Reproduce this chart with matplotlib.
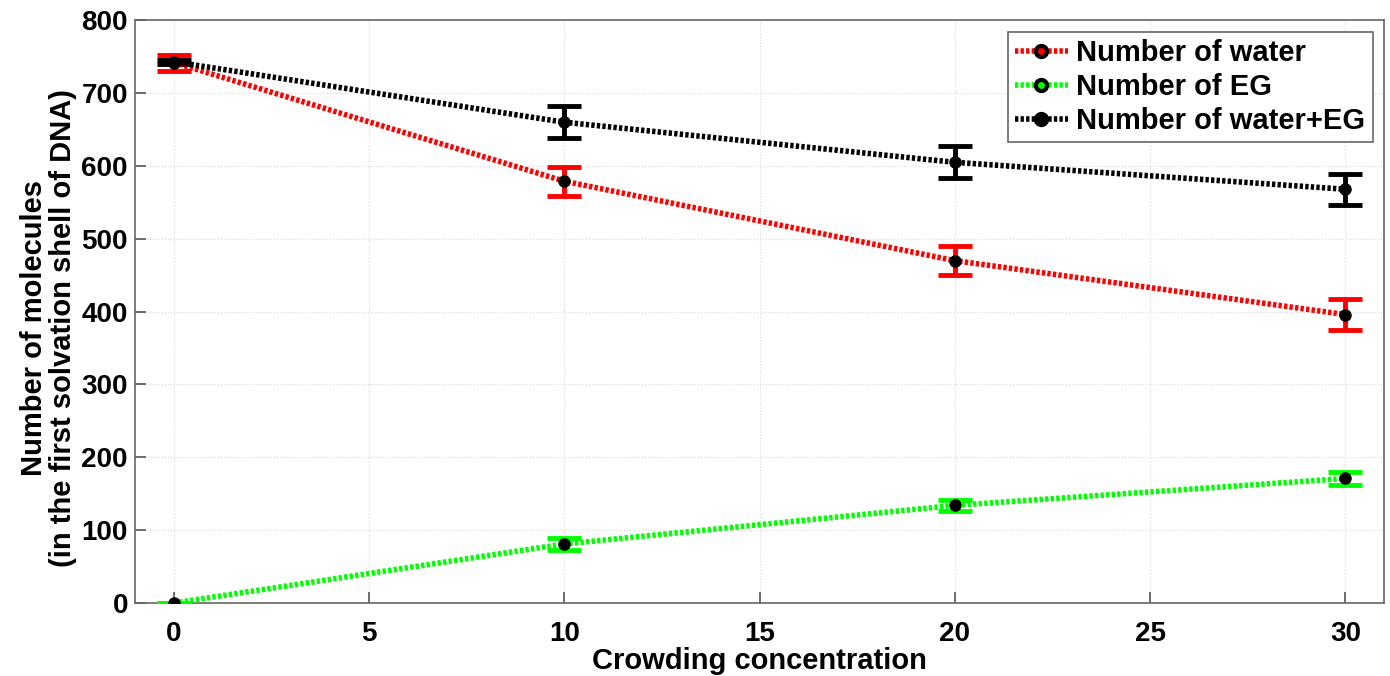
import matplotlib
matplotlib.use('Agg')
import matplotlib.pyplot as plt
from matplotlib.lines import Line2D

# Data
conc = [0, 10, 20, 30]
water = [742, 579, 470, 396]
water_err = [11, 20, 20, 21]
eg = [0, 81, 134, 171]
eg_err = [0, 8, 8, 9]
total = [743, 660, 605, 568]
total_err = [3, 22, 22, 21]

plt.rcParams['font.family'] = ['Liberation Sans', 'DejaVu Sans']
plt.rcParams['font.weight'] = 'bold'

fig = plt.figure(figsize=(13.9, 6.76), dpi=100)
ax = fig.add_axes([0.097, 0.108, 0.899, 0.862])

dash = (0, (0.6, 0.4))
series = [
    (water, water_err, 'red', 'Number of water'),
    (eg, eg_err, '#00ff00', 'Number of EG'),
    (total, total_err, 'black', 'Number of water+EG'),
]
handles = []
for vals, err, col, lab in series:
    ax.errorbar(conc, vals, yerr=err, color=col, ecolor=col, elinewidth=3.5,
                capsize=12, capthick=3.5, linestyle='none', zorder=3)
    ax.plot(conc, vals, color=col, linestyle=dash, linewidth=4, zorder=4)
    ax.plot(conc, vals, linestyle='none', marker='o', markersize=8,
            markerfacecolor='black', markeredgecolor='black', zorder=5)
    handles.append(Line2D([], [], color=col, linestyle=dash, linewidth=4,
                          marker='o', markersize=8, markerfacecolor=col,
                          markeredgecolor='black', markeredgewidth=3,
                          label=lab))

ax.set_xlim(-1, 31)
ax.set_ylim(0, 800)
ax.set_xticks([0, 5, 10, 15, 20, 25, 30])
ax.set_yticks(range(0, 801, 100))
ax.grid(True, color='#d8d8d8', linestyle=':', linewidth=0.8)
ax.tick_params(direction='in', length=8, width=1.2, color='#555555',
               labelsize=20, top=False, right=False)
ax.tick_params(axis='x', pad=13)
ax.tick_params(axis='y', pad=5)
for lbl in ax.get_xticklabels() + ax.get_yticklabels():
    lbl.set_fontweight('bold')
for s in ax.spines.values():
    s.set_color('#666666')
    s.set_linewidth(1.2)

ax.set_xlabel('Crowding concentration', fontsize=21, fontweight='bold', labelpad=0)
ax.set_ylabel('Number of molecules\n(in the first solvation shell of DNA)',
              fontsize=21, fontweight='bold', linespacing=1.05)
ax.yaxis.set_label_coords(-0.046, 0.472)

leg = ax.legend(handles=handles, loc='upper right', fontsize=21, frameon=True,
                fancybox=False, handlelength=1.8, borderpad=0.25,
                labelspacing=0.2, handletextpad=0.3, borderaxespad=0.4)
leg.get_frame().set_edgecolor('#666666')
leg.get_frame().set_linewidth(1.2)
leg.get_frame().set_alpha(1)
for t in leg.get_texts():
    t.set_fontweight('bold')

fig.savefig('out.png', dpi=100)
